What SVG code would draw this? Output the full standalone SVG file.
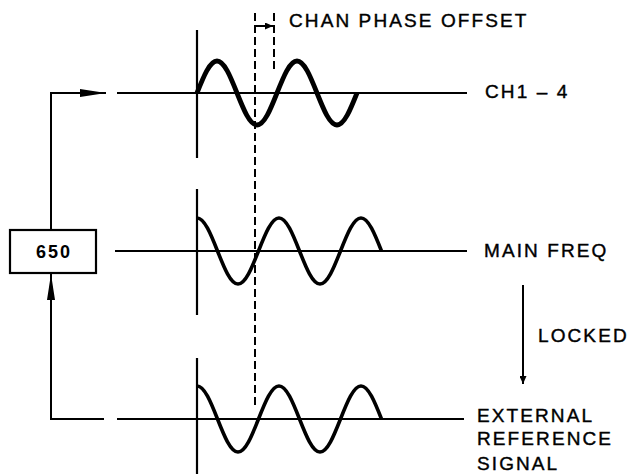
<svg xmlns="http://www.w3.org/2000/svg" width="629" height="474" viewBox="0 0 629 474">
<style>
.ln{stroke:#000;stroke-width:2;fill:none}
.ax{stroke:#000;stroke-width:2.2;fill:none}
.dash{stroke:#000;stroke-width:2;fill:none;stroke-dasharray:8 4}
.wv{stroke:#000;stroke-width:3.6;fill:none;stroke-linejoin:round}
.wvt{stroke:#000;stroke-width:4.8;fill:none;stroke-linejoin:round}
.lbl{font-family:"Liberation Sans",Arial,sans-serif;font-size:19px;letter-spacing:2.1px;fill:#000;stroke:#000;stroke-width:0.4}
.box{fill:#fff;stroke:#000;stroke-width:2.2}
.bt{font-family:"Liberation Sans",Arial,sans-serif;font-size:18px;font-weight:bold;letter-spacing:2px;fill:#000}
</style>
<defs>
<marker id="ah" viewBox="0 0 26 8" refX="26" refY="4" markerWidth="26" markerHeight="8" markerUnits="userSpaceOnUse" orient="auto"><path d="M0,0 L26,4 L0,8 Z" fill="#000"/></marker>
<marker id="ahs" viewBox="0 0 8 7" refX="8" refY="3.5" markerWidth="8" markerHeight="7" markerUnits="userSpaceOnUse" orient="auto"><path d="M0,0 L8,3.5 L0,7 Z" fill="#000"/></marker>
<path id="cosw" d="M0,-33 C7.42,-33 13.81,-16.91 20.5,0 C27.19,16.91 33.58,33 41,33 C48.42,33 54.81,16.91 61.5,0 C68.19,-16.91 74.58,-33 82,-33 C89.42,-33 95.81,-16.91 102.5,0 C109.19,16.91 115.58,33 123,33 C130.42,33 136.81,16.91 143.5,0 C150.19,-16.91 156.58,-33 164,-33 C171.42,-33 177.81,-16.91 184.5,0"/>
</defs>

<g id="axes">
<line class="ax" x1="197" y1="30" x2="197" y2="158"/>
<line class="ax" x1="197" y1="189" x2="197" y2="315"/>
<line class="ax" x1="197" y1="358" x2="197" y2="474"/>
<line class="dash" x1="255" y1="13" x2="255" y2="406"/>
<line class="dash" x1="274" y1="13" x2="274" y2="73"/>
</g>

<g id="ch14">
<line class="ln" x1="117" y1="93" x2="467" y2="93"/>
<path class="wvt" transform="translate(197,93)" d="M0,0 C6.52,-16.39 12.76,-32 20,-32 C27.24,-32 33.48,-16.39 40,0 C46.52,16.39 52.76,32 60,32 C67.24,32 73.48,16.39 80,0 C86.52,-16.39 92.76,-32 100,-32 C107.24,-32 113.48,-16.39 120,0 C126.52,16.39 132.76,32 140,32 C147.24,32 153.48,16.39 160,0"/>
<text class="lbl" x="485" y="98">CH1 – 4</text>
</g>

<g id="phase-offset">
<line class="ln" x1="255" y1="26" x2="273" y2="26" marker-end="url(#ahs)"/>
<text class="lbl" x="289" y="27">CHAN PHASE OFFSET</text>
</g>

<g id="main-freq">
<line class="ln" x1="115" y1="251" x2="467" y2="251"/>
<use href="#cosw" class="wv" transform="translate(197,251)"/>
<text class="lbl" x="484" y="257">MAIN FREQ</text>
</g>

<g id="ext-ref">
<line class="ln" x1="117" y1="419" x2="464" y2="419"/>
<use href="#cosw" class="wv" transform="translate(197,419)"/>
<text class="lbl" x="477" y="422">EXTERNAL</text>
<text class="lbl" x="477" y="445">REFERENCE</text>
<text class="lbl" x="477" y="470">SIGNAL</text>
</g>

<g id="box650">
<rect class="box" x="10" y="230" width="86" height="43"/>
<text class="bt" x="54" y="258" text-anchor="middle">650</text>
</g>

<g id="connectors">
<polyline class="ln" points="104,419 51,419 51,274" marker-end="url(#ah)"/>
<polyline class="ln" points="51,230 51,93 106,93" marker-end="url(#ah)"/>
<line class="ln" x1="523" y1="285" x2="523" y2="384" marker-end="url(#ahs)"/>
<text class="lbl" x="538" y="342">LOCKED</text>
</g>
</svg>
